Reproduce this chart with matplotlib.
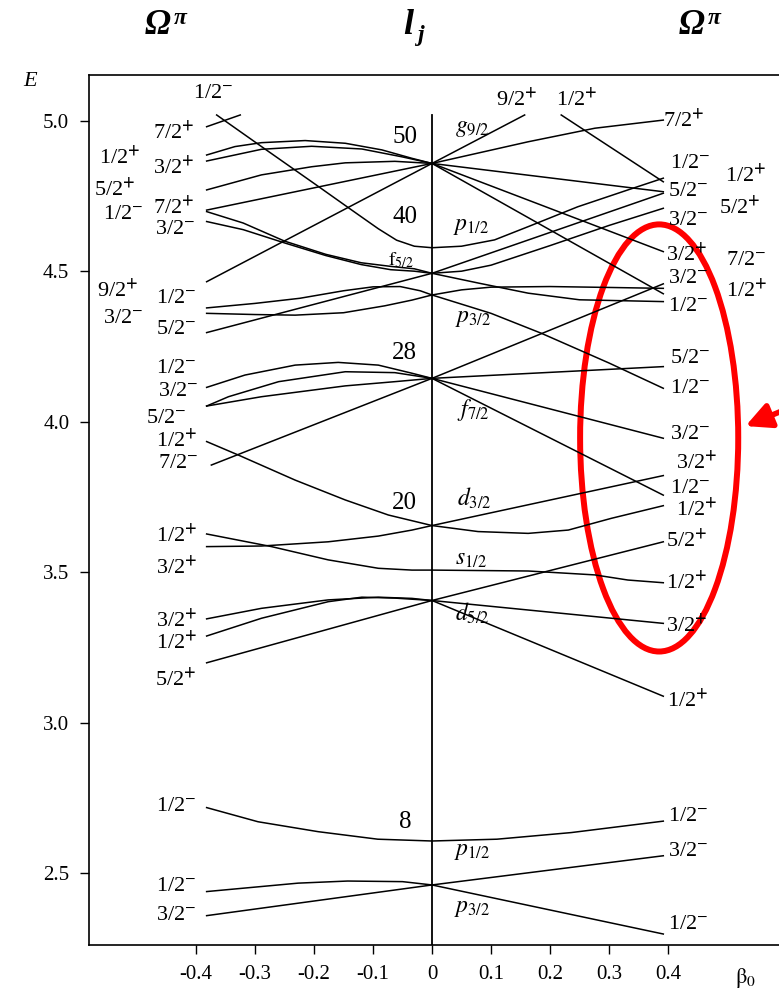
import matplotlib
matplotlib.use('Agg')
import matplotlib.pyplot as plt
from matplotlib.patches import Ellipse

plt.rcParams['font.family'] = ['Liberation Serif', 'DejaVu Serif']
plt.rcParams['mathtext.fontset'] = 'stix'

# Nilsson levels, (beta0, E) points
# N=4 g9/2 shell and the steep p1/2 1/2- level
g92_levels = [
    [(-0.382, 4.980), (-0.325, 5.019)],
    [(-0.382, 4.886), (-0.334, 4.914), (-0.289, 4.927), (-0.215, 4.934), (-0.147, 4.925),
     (-0.085, 4.903), (-0.034, 4.875), (0, 4.858)],
    [(-0.382, 4.866), (-0.289, 4.905), (-0.204, 4.915), (-0.119, 4.906), (-0.051, 4.880), (0, 4.858)],
    [(-0.382, 4.770), (-0.289, 4.820), (-0.204, 4.847), (-0.147, 4.860), (-0.063, 4.865), (0, 4.858)],
    [(-0.382, 4.703), (0, 4.858)],
    [(-0.382, 4.465), (0, 4.858)],
    [(0, 4.858), (0.157, 5.019)],
    [(0, 4.858), (0.163, 4.930), (0.276, 4.975), (0.392, 5.002)],
    [(0, 4.858), (0.392, 4.764)],
    [(0, 4.858), (0.392, 4.565)],
    [(0, 4.858), (0.392, 4.425)],
    [(0.219, 5.019), (0.392, 4.797)],
]

# p1/2, f5/2, p3/2
n3_upper_levels = [
    [(-0.365, 5.019), (-0.289, 4.914), (-0.198, 4.789), (-0.136, 4.703), (-0.091, 4.641),
     (-0.06, 4.603), (-0.03, 4.583), (0, 4.578), (0.05, 4.583), (0.106, 4.604),
     (0.163, 4.648), (0.247, 4.714), (0.332, 4.770), (0.392, 4.809)],
    [(-0.382, 4.698), (-0.32, 4.660), (-0.25, 4.600), (-0.18, 4.556), (-0.12, 4.528),
     (-0.07, 4.516), (-0.03, 4.508), (0, 4.493)],
    [(-0.382, 4.665), (-0.32, 4.638), (-0.25, 4.594), (-0.18, 4.552), (-0.12, 4.522),
     (-0.07, 4.505), (-0.03, 4.500), (0, 4.493)],
    [(-0.382, 4.296), (0, 4.493)],
    [(-0.382, 4.378), (-0.3, 4.393), (-0.224, 4.410), (-0.15, 4.435), (-0.1, 4.448),
     (-0.054, 4.449), (-0.02, 4.435), (0, 4.421)],
    [(-0.382, 4.360), (-0.3, 4.356), (-0.232, 4.354), (-0.15, 4.362), (-0.08, 4.385),
     (-0.034, 4.404), (0, 4.421)],
    [(0, 4.493), (0.392, 4.759)],
    [(0, 4.493), (0.05, 4.500), (0.1, 4.520), (0.2, 4.585), (0.3, 4.652), (0.392, 4.709)],
    [(0, 4.421), (0.05, 4.438), (0.1, 4.447), (0.2, 4.449), (0.3, 4.446), (0.392, 4.443)],
    [(0, 4.493), (0.08, 4.460), (0.163, 4.427), (0.25, 4.405), (0.392, 4.399)],
    [(0, 4.421), (0.1, 4.360), (0.185, 4.294), (0.3, 4.195), (0.392, 4.111)],
]

# f7/2
f72_levels = [
    [(-0.382, 4.114), (-0.317, 4.155), (-0.232, 4.188), (-0.159, 4.197), (-0.091, 4.188),
     (-0.034, 4.161), (0, 4.144)],
    [(-0.382, 4.052), (-0.345, 4.083), (-0.26, 4.133), (-0.147, 4.166), (-0.063, 4.163), (0, 4.144)],
    [(-0.382, 4.052), (-0.289, 4.083), (-0.147, 4.119), (-0.063, 4.133), (0, 4.144)],
    [(-0.374, 3.856), (0, 4.144)],
    [(0, 4.144), (0.392, 4.458)],
    [(0, 4.144), (0.392, 4.183)],
    [(0, 4.144), (0.392, 3.945)],
    [(0, 4.144), (0.392, 3.756)],
]

# d3/2, s1/2, d5/2
sd_levels = [
    [(-0.382, 3.934), (-0.328, 3.889), (-0.232, 3.806), (-0.147, 3.740), (-0.074, 3.690), (0, 3.655)],
    [(-0.382, 3.585), (-0.289, 3.587), (-0.176, 3.601), (-0.091, 3.620), (-0.034, 3.640), (0, 3.655)],
    [(0, 3.655), (0.392, 3.821)],
    [(0, 3.655), (0.078, 3.635), (0.163, 3.629), (0.231, 3.640), (0.304, 3.679), (0.392, 3.721)],
    [(-0.382, 3.627), (-0.272, 3.585), (-0.176, 3.541), (-0.091, 3.513), (-0.034, 3.507), (0, 3.507)],
    [(0, 3.507), (0.163, 3.504), (0.276, 3.491), (0.332, 3.474), (0.392, 3.465)],
    [(-0.382, 3.345), (-0.289, 3.380), (-0.176, 3.408), (-0.091, 3.417), (-0.034, 3.413), (0, 3.406)],
    [(-0.382, 3.288), (-0.289, 3.347), (-0.176, 3.402), (-0.119, 3.417), (-0.063, 3.414), (0, 3.406)],
    [(-0.382, 3.199), (0, 3.406)],
    [(0, 3.406), (0.392, 3.601)],
    [(0, 3.406), (0.392, 3.330)],
    [(0, 3.406), (0.392, 3.088)],
]

# p1/2, p3/2 (N=1)
p_levels = [
    [(-0.382, 2.718), (-0.295, 2.671), (-0.193, 2.638), (-0.092, 2.613), (0, 2.607),
     (0.11, 2.613), (0.236, 2.635), (0.392, 2.673)],
    [(-0.382, 2.439), (-0.227, 2.467), (-0.143, 2.474), (-0.05, 2.472), (0, 2.461)],
    [(-0.382, 2.359), (0, 2.461)],
    [(0, 2.461), (0.392, 2.558)],
    [(0, 2.461), (0.392, 2.298)],
]

# Omega^pi labels (text, beta0, E)
left_labels = [
    ('1/2-', -0.371, 5.091), ('7/2+', -0.438, 4.963), ('1/2+', -0.529, 4.880),
    ('3/2+', -0.438, 4.847), ('5/2+', -0.537, 4.775), ('7/2+', -0.438, 4.714),
    ('1/2-', -0.523, 4.687), ('3/2-', -0.436, 4.637), ('9/2+', -0.532, 4.438),
    ('1/2-', -0.433, 4.410), ('3/2-', -0.523, 4.344), ('5/2-', -0.433, 4.305),
    ('1/2-', -0.433, 4.177), ('3/2-', -0.431, 4.100), ('5/2-', -0.451, 4.011),
    ('1/2+', -0.433, 3.939), ('7/2-', -0.431, 3.862), ('1/2+', -0.433, 3.624),
    ('3/2+', -0.433, 3.518), ('3/2+', -0.433, 3.341), ('1/2+', -0.433, 3.269),
    ('5/2+', -0.435, 3.148), ('1/2-', -0.433, 2.721), ('1/2-', -0.433, 2.457),
    ('3/2-', -0.433, 2.361),
]
right_labels = [
    ('9/2+', 0.144, 5.074), ('1/2+', 0.245, 5.074), ('7/2+', 0.426, 5.002),
    ('1/2-', 0.437, 4.858), ('1/2+', 0.531, 4.820), ('5/2-', 0.434, 4.764),
    ('5/2+', 0.522, 4.714), ('3/2-', 0.434, 4.670), ('3/2+', 0.431, 4.559),
    ('7/2-', 0.533, 4.537), ('3/2-', 0.434, 4.476), ('1/2+', 0.533, 4.438),
    ('1/2-', 0.434, 4.382), ('5/2-', 0.437, 4.211), ('1/2-', 0.437, 4.111),
    ('3/2-', 0.437, 3.956), ('3/2+', 0.448, 3.867), ('1/2-', 0.437, 3.779),
    ('1/2+', 0.448, 3.712), ('5/2+', 0.431, 3.607), ('1/2+', 0.431, 3.468),
    ('3/2+', 0.431, 3.325), ('1/2+', 0.434, 3.075), ('1/2-', 0.434, 2.688),
    ('3/2-', 0.434, 2.571), ('1/2-', 0.434, 2.328),
]
shell_numbers = [('50', -0.046, 4.947), ('40', -0.046, 4.681), ('28', -0.046, 4.227),
                 ('20', -0.046, 3.729), ('8', -0.046, 2.671)]
orbitals = [(r'$g_{9/2}$', 0.039, 4.975), (r'$p_{1/2}$', 0.036, 4.648),
            (r'$p_{3/2}$', 0.039, 4.344), (r'$f_{7/2}$', 0.042, 4.039),
            (r'$d_{3/2}$', 0.042, 3.745), (r'$s_{1/2}$', 0.039, 3.541),
            (r'$d_{5/2}$', 0.039, 3.364), (r'$p_{1/2}$', 0.038, 2.571),
            (r'$p_{3/2}$', 0.038, 2.383)]

xticks = [-0.4, -0.3, -0.2, -0.1, 0, 0.1, 0.2, 0.3, 0.4]
xticklabels = ['-0.4', '-0.3', '-0.2', '-0.1', '0', '0.1', '0.2', '0.3', '0.4']
yticks = [2.5, 3.0, 3.5, 4.0, 4.5, 5.0]


def omega(s):
    if s[-1] == '+':
        return s[:-1] + r'$^{\mathbf{+}}$'
    return s[:-1] + r'$^{-}$'


fig = plt.figure(figsize=(7.79, 9.9), dpi=100)
ax = fig.add_axes([89.4 / 779, 45 / 990, (800 - 89.4) / 779, 870 / 990])
ax.set_xlim(-0.5807, 0.6237)
ax.set_ylim(2.2615, 5.1518)

for group in [g92_levels, n3_upper_levels, f72_levels, sd_levels, p_levels]:
    for lev in group:
        b, e = zip(*lev)
        ax.plot(b, e, color='black', lw=1.1, solid_joinstyle='round')

# vertical beta=0 line
ylo = ax.get_ylim()[0]
ax.plot([0, 0], [ylo, 5.019], color='black', lw=1.3)

for txt, b, e in left_labels + right_labels:
    ax.text(b, e, omega(txt), fontsize=16, ha='center', va='center', clip_on=False)
for txt, b, e in shell_numbers:
    ax.text(b, e, txt, fontsize=18, ha='center', va='center')
for txt, b, e in orbitals:
    ax.text(b, e, txt, fontsize=17, ha='left', va='center')
ax.text(-0.053, 4.537, r'$\mathrm{f}_{5/2}$', fontsize=14, ha='center', va='center')

# red highlight
ax.add_patch(Ellipse((0.385, 3.946), 0.268, 1.419, fill=False, edgecolor='#ff0000',
                     lw=4.3, clip_on=False))
ax.annotate('', xy=(0.527, 3.982), xytext=(0.66, 4.09),
            arrowprops=dict(arrowstyle='-|>', color='#ff0000', lw=4, mutation_scale=38),
            annotation_clip=False)

ax.set_xticks(xticks)
ax.set_xticklabels(xticklabels)
ax.set_yticks(yticks)
ax.set_yticklabels(['%.1f' % v for v in yticks])
ax.tick_params(direction='out', length=6.5, width=1, labelsize=15, pad=8)
for side in ['left', 'bottom', 'top']:
    ax.spines[side].set_linewidth(1.2)
ax.spines['right'].set_visible(False)

fig.text(30 / 779, 1 - 82 / 990, 'E', fontsize=16, style='italic', ha='center', va='center')
fig.text(745 / 779, 1 - 978 / 990, r'$\mathrm{\beta}_0$', fontsize=16, ha='center', va='center')

for cx in [158, 692]:
    fig.text(cx / 779, 1 - 26 / 990, 'Ω', fontsize=25, weight='bold', style='italic',
             ha='center', va='center')
    fig.text((cx + 22) / 779, 1 - 19 / 990, 'π', fontsize=17, weight='bold', style='italic',
             ha='center', va='center')
fig.text(408 / 779, 1 - 25 / 990, 'l', fontsize=26, weight='bold', style='italic',
         ha='center', va='center')
fig.text(420 / 779, 1 - 36 / 990, 'j', fontsize=17, weight='bold', style='italic',
         ha='center', va='center')

fig.savefig('out.png', dpi=100)
